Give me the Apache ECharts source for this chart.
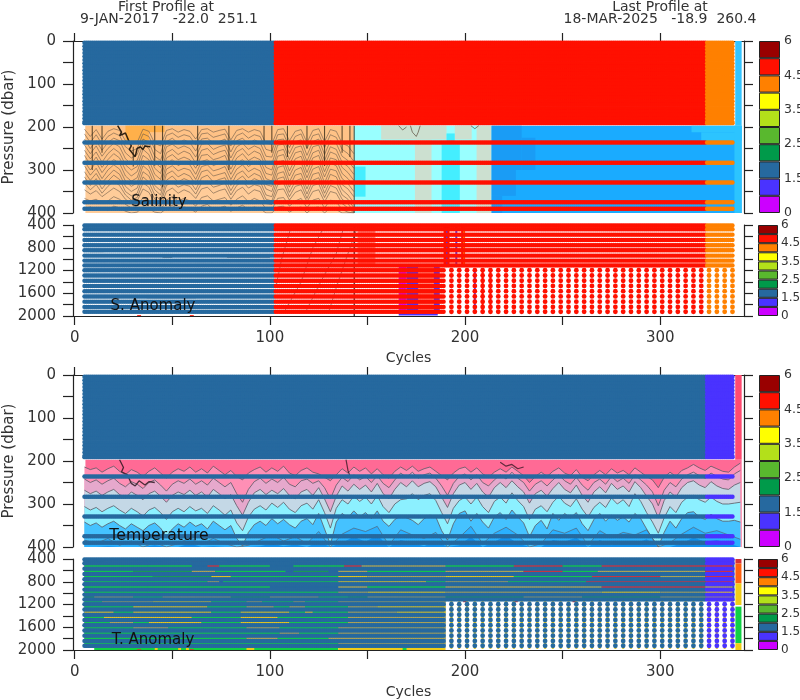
<!DOCTYPE html>
<html>
<head>
<meta charset="utf-8">
<style>html,body{margin:0;padding:0;background:#fff}#c{width:800px;height:700px}</style>
<script src="https://cdn.jsdelivr.net/npm/echarts@6/dist/echarts.min.js"></script>
</head>
<body>
<div id="c"></div>
<script>
// ---- profile positions
const denseCycles=[5,6,7,8,9,10,11,12,13,14,15,16,17,18,19,20,21,22,23,24,25,26,27,28,29,30,31,32,33,34,35,36,37,38,39,40,41,42,43,44,45,46,47,48,49,50,51,52,53,54,55,56,57,58,59,60,61,62,63,64,65,66,67,68,69,70,71,72,73,74,75,76,77,78,79,80,81,82,83,84,85,86,87,88,89,90,91,92,93,94,95,96,97,98,99,100,101,102,103,104,105,106,107,108,109,110,111,112,113,114,115,116,117,118,119,120,121,122,123,124,125,126,127,128,129,130,131,132,133,134,135,136,137,138,139,140,141,142,143,144,145,146,147,148,149,150,151,152,153,154,155,156,157,158,159,160,161,162,163,164,165,166,167,168,169,170,171,172,173,174,175,176,177,178,179,180,181,182,183,184,185,186,187,188,189,190,191,192,193,194,195,196,197,198,199,200,201,202,203,204,205,206,207,208,209,210,211,212,213,214,215,216,217,218,219,220,221,222,223,224,225,226,227,228,229,230,231,232,233,234,235,236,237,238,239,240,241,242,243,244,245,246,247,248,249,250,251,252,253,254,255,256,257,258,259,260,261,262,263,264,265,266,267,268,269,270,271,272,273,274,275,276,277,278,279,280,281,282,283,284,285,286,287,288,289,290,291,292,293,294,295,296,297,298,299,300,301,302,303,304,305,306,307,308,309,310,311,312,313,314,315,316,317,318,319,320,321,322,323,324,325,326,327,328,329,330,331,332,333,334,335,336,337];
const sparseCycles=[193,197,201,205,209,213,217,221,225,229,233,237,241,245,249,253,257,261,265,269,273,277,281,285,289,293,297,301,305,309,313,317,321,325,329,333,337];
const pressuresTop=[4,12,20,28,36,44,52,60,68,76,84,92,100,108,116,124,132,140,148,156,164,172,180,188,191];
const pressuresBands=[236,283,329,375,390];
const pressuresMid=[410,476,570,664,755,845,938,1026,1110];
const pressuresDeep=[1196,1288,1380,1472,1564,1656,1748,1840,1925];
const gapLevels=[430,523,616,711,799,892,985,1068,1161,1249,1337,1424,1512,1600,1695,1788,1876];

// ---- colour classes per cycle: last cycle of each class
const blueLastCycle=102, redLastCycle=323;

// ---- axis ticks
const xTicks=[0,50,100,150,200,250,300];
const xLabels=[0,100,200,300];
const pTicksUpper=[0,50,100,150,200,250,300,350,400];
const pLabelsUpper=[0,100,200,300,400];
const pTicksLower=[400,600,800,1000,1200,1400,1600,1800,2000];
const pLabelsLower=[400,800,1200,1600,2000];
const barLabelValues=[0,2,4,6,8,10];
const barLabelTexts=['0','1.5','2.5','3.5','4.5','6'];
const barCells=[1,1,1,1,1,1,1,1,1,1];

// ---- salinity filled contours: [cycle0,cycle1,p0,p1,class]
const salinityCells=[
[5.5,143,197,400,0],[5.5,143,197,330,1],[26,38,197,237,2],[38,46,197,212,2],
[143,213.6,197,400,3],[157,190.5,197,229,4],[194.7,203.4,197,229,4],[205.9,213.6,197,400,4],
[174.3,182.8,229,400,4],[188,197.3,240,400,5],[190.5,194.7,215,240,5],[143.6,149,292,362,5],
[213.6,341.7,197,400,6],[213.6,229,197,300,7],[229,236,225,300,7],[213.6,226,300,360,7],[213.6,219,360,400,7],
[316,341.7,197,212,8],[321,341.7,212,232,8],[338,341.7,197,400,8],[338.4,341.7,0,197,9]];

// ---- salinity contour lines
const salCycles=[5,8,11,14,17,20,23,26,29,32,35,38,41,44,47,50,53,56,59,62,65,68,71,74,77,80,83,86,89,92,95,98,101,104,107,110,113,116,119,122,125,128,131,134,137,140,143];
const salLine1=[205,222,206,228,210,204,208,232,240,236,205,210,238,244,208,204,212,206,210,228,206,204,212,208,205,230,208,204,212,206,210,238,240,206,204,232,210,206,236,208,204,234,206,210,238,244,262];
const salLine2=[216,236,218,240,222,214,220,246,256,250,216,222,252,262,220,214,224,218,222,242,216,214,224,220,216,244,220,214,226,218,222,252,256,218,216,248,222,216,250,220,216,248,218,224,252,262,280];
const salLine3=[228,250,232,254,236,226,232,260,272,264,228,236,268,278,234,226,238,230,236,256,228,226,238,234,228,258,232,226,240,230,236,268,270,230,228,262,234,230,266,234,228,264,232,238,268,278,296];
const salLine4=[242,262,244,268,250,238,246,274,286,278,240,250,282,294,246,240,250,244,250,270,240,238,252,246,242,272,246,238,252,244,250,282,286,242,240,276,248,244,280,246,242,278,246,252,282,292,310];
const salLine5=[254,274,258,282,262,250,260,288,300,292,252,264,296,308,260,252,264,256,262,284,254,250,264,258,254,284,258,250,266,256,262,294,300,256,252,288,260,256,292,260,254,290,258,264,294,306,324];
const salLine6=[266,288,270,294,276,262,272,300,314,304,266,276,310,322,272,264,276,270,276,296,266,264,276,272,266,298,272,262,278,270,276,308,312,268,264,302,274,268,306,272,266,304,272,276,308,320,336];
const salLine7=[280,300,282,306,288,276,284,314,326,318,278,290,322,336,286,276,290,282,288,310,280,276,290,284,280,310,284,276,292,282,288,320,326,282,278,314,286,282,318,286,280,316,284,290,320,332,350];
const salLine8=[290,312,296,320,300,288,298,326,338,330,290,302,336,348,298,290,302,296,300,322,292,288,302,298,292,322,298,288,304,296,302,334,338,294,290,328,300,294,330,298,292,330,298,302,334,344,362];
const salLine9=[304,324,308,330,314,300,310,338,350,342,304,314,346,358,310,302,316,308,314,334,304,300,314,310,306,336,310,302,318,308,314,344,350,308,304,340,312,308,344,310,306,342,310,316,346,358,376];
const salLine10=[316,336,320,344,326,312,322,350,360,354,316,328,358,370,324,314,328,320,326,346,318,312,328,322,318,348,324,314,330,320,326,358,362,320,316,352,326,320,356,324,318,354,324,328,358,368,388];
const salLine11=[330,346,334,354,338,326,336,358,370,364,330,340,368,378,336,328,340,334,338,356,330,326,340,336,330,358,336,326,342,334,338,368,372,334,330,362,338,334,366,336,332,364,336,342,368,378,398];
const salLine12=[346,356,348,362,352,342,350,368,378,372,344,352,376,386,350,342,354,346,352,366,344,340,354,348,344,368,348,340,356,346,350,378,380,346,344,370,352,346,374,350,346,374,350,354,378,388,400];
const salLine13=[366,372,368,378,372,362,368,380,388,384,364,372,386,394,370,362,372,366,372,384,364,360,372,368,364,382,368,360,374,366,372,390,392,366,364,384,372,366,388,370,366,388,370,374,392,398,400];
const salLine14=[390,386,392,388,394,384,388,396,400,398,386,390,398,400,390,382,392,386,390,398,384,380,392,388,384,396,388,382,392,386,390,400,400,386,384,398,390,386,400,388,386,400,388,392,400,400,400];
const salDarkTrace=[[22,197],[24,212],[23,220],[26,214],[27.5,230],[29,244],[28,252],[31,269],[32,250],[33.5,246],[35,252],[36,244],[38.6,246]];
const salBundles=[[9,197,300],[14,197,260],[30,246,292],[41,197,290],[45,197,340],[63,197,290],[79,197,300],[97,197,240],[101,197,260],[109,197,270],[119,197,250],[128,197,290],[137,197,260],[141,197,270],[143.2,197,400]];
const salLoops=[[[166,197],[168,207],[170,200]],[[172,197],[173,212],[175,222],[176,212],[177,197]],[[203,197],[205,204],[207,197]]];

// ---- temperature contour lines
const tempCycles=[5,8,11,14,17,20,23,26,29,32,35,38,41,44,47,50,53,56,59,62,65,68,71,74,77,80,83,86,89,92,95,98,101,104,107,110,113,116,119,122,125,128,131,134,137,140,143,146,149,152,155,158,161,164,167,170,173,176,179,182,185,188,191,194,197,200,203,206,209,212,215,218,221,224,227,230,233,236,239,242,245,248,251,254,257,260,263,266,269,272,275,278,281,284,287,290,293,296,299,302,305,308,311,314,317,320,323,326,329,332,335,338,341];
const tempCyclesCoarse=[5,11,17,23,29,35,41,47,53,59,65,71,77,83,89,95,101,107,113,119,125,131,137,143,149,155,161,167,173,179,185,191,197,203,209,215,221,227,233,239,245,251,257,263,269,275,281,287,293,299,305,311,317,323,329,335,341];
const tempLine1=[214,220,216,226,218,212,224,232,220,226,236,224,216,228,240,226,218,224,214,226,218,228,212,222,232,222,236,244,228,220,214,226,216,224,212,228,234,222,216,226,230,238,246,232,218,228,214,224,216,230,218,232,240,224,214,222,212,224,218,214,224,234,244,228,218,214,226,216,230,238,226,218,226,214,224,234,250,236,226,236,224,216,228,234,220,238,246,232,222,232,218,228,222,232,216,226,236,244,262,238,226,236,222,216,208,216,222,212,218,224,226,214,205];
const tempLine2=[242,250,244,254,246,240,252,260,248,254,264,250,244,256,270,254,246,252,242,254,246,256,240,250,260,250,276,296,266,248,240,252,242,250,238,254,260,246,242,252,246,262,288,256,238,248,232,244,236,250,234,252,262,244,228,238,226,240,232,228,240,258,280,252,236,230,244,232,250,258,244,232,242,226,240,250,270,254,246,258,244,232,246,254,238,256,268,250,242,254,236,248,240,252,232,244,256,272,304,268,250,260,242,232,226,234,240,228,236,242,244,230,222];
const tempLine3=[268,276,270,280,272,266,278,286,272,280,290,276,270,282,296,280,272,278,268,280,272,284,266,276,288,278,304,326,296,274,266,278,268,276,264,280,288,272,266,280,262,288,318,282,258,270,254,266,256,272,252,276,288,266,250,260,246,260,252,248,260,284,308,276,256,250,266,252,272,284,262,250,262,246,260,272,298,276,268,282,264,250,266,274,256,280,296,272,260,274,252,266,258,272,248,262,282,300,332,292,272,284,262,250,246,256,262,248,258,264,266,256,250];
const tempLine4=[306,314,308,318,310,304,314,322,310,318,328,314,308,320,336,318,310,318,306,316,310,322,304,314,326,314,344,362,330,312,304,314,298,308,296,312,320,304,298,312,290,320,356,310,290,300,282,294,284,300,280,306,320,300,290,288,276,290,280,276,292,320,346,310,292,284,300,284,306,320,294,284,298,274,292,306,336,312,304,318,296,282,298,306,288,312,330,308,296,308,286,300,290,306,276,294,320,342,368,332,306,320,296,284,280,290,296,284,294,300,300,298,296];
const tempLine5=[342,350,344,354,346,340,350,358,346,354,362,350,344,356,376,358,346,354,342,352,346,358,340,350,360,350,380,398,366,348,340,350,334,346,336,348,356,340,334,348,322,358,394,342,322,332,316,330,320,334,316,340,352,336,328,332,338,348,334,326,330,362,384,346,322,316,340,322,342,356,330,320,336,314,330,344,376,350,338,358,322,338,322,332,320,346,362,336,322,340,326,338,330,342,322,334,358,380,400,366,340,356,334,320,318,330,336,324,334,340,340,338,342];
const tempLine6=[384,392,380,396,386,400,390,400,392,378,394,380,392,400,396,384,372,386,376,392,364,400,370,356,364,352,396,360,372,380,366,400,378,352,392,368,354,372,400,392,360,368,356,396,362,378,366,372,360,400,390,370,354,368,362,372,382];
const tempLine7=[400,400,398,400,400,400,396,400,400,392,400,398,400,400,400,398,392,398,394,400,388,400,390,376,388,372,400,384,390,398,386,400,396,376,400,388,374,392,400,400,384,388,378,400,384,396,386,392,382,400,400,392,378,388,384,392,400];
const tempDarkTrace=[[23,197],[25,215],[24,225],[27,232],[29,252],[31,258],[33,246],[36,256],[38,248],[41,250]];
const tempDarkTrace2=[[139,197],[140,222],[141,235]];
const tempDarkTrace3=[[218,203],[221,212],[224,208],[227,218],[230,214]];
const tempBase=[[5.5,341.7,197,400,0],[338.4,341.7,0,197,1]];

// ---- salinity anomaly: under-dot marks [cycle0,cycle1,p0,p1,class]
const salAnomalyCells=[
[145,154,400,1135,4],[189,192,400,1135,0],[190.2,191,400,1135,1],[195,196,400,1135,1],[198,200,400,1135,0],[199,199.7,400,1135,3],
[166,170,1135,1950,2],[170,176,1135,1950,1],[176,184,1135,1950,4],[184,187,1135,1950,1],[166,186,1950,1992,1],
[204.5,205.5,1160,1950,1],[208.5,209.5,1160,1950,0],[212.5,213.5,1160,1950,0],[32,34,1985,2000,0],[59,61,1985,2000,0]];
const salAnomalyTraces=[
[[107,1950],[116,1400],[122,800],[128,420]],[[118,1950],[126,1400],[134,900],[138,420]],[[130,1950],[134,1500],[139,1000],[145,420]],
[[103,1500],[106,1000],[111,420]],[[7.8,869],[14.7,869]],[[27,425],[35,425]],[[40,425],[52,425]],[[78,425],[90,425]],[[71,840],[95,840]],[[45,970],[50,970]],[[78,970],[100,970]],[[80,1580],[84,1580]],[[94,1580],[98,1580]],[[37,1680],[62,1680]]];
const salAnomalyVertical=[[143.2,400],[143.2,2000]];

// ---- temperature anomaly: runs in the gaps between rows (c0,c1,class ...)
const tempGapRows=[
[5,15,0,15,35,1,35,45,0,45,60,1,60,72,3,72,78,1,110,125,1,125,135,0,135,150,1,150,166,3,166,190,1,190,200,0,200,225,1,225,250,0,250,270,1,270,323,0,323,337,3],
[5,60,0,68,74,3,74,100,0,112,138,0,138,147,3,147,190,1,190,225,0,225,250,3,250,270,0,270,323,3,323,337,3],
[5,30,0,30,60,4,60,72,1,72,108,0,112,130,4,135,150,1,150,190,0,190,230,1,230,250,3,250,268,0,268,323,1,323,337,3],
[5,40,0,40,70,4,70,80,2,80,135,0,135,150,2,150,190,1,190,225,2,225,265,0,265,300,3,300,323,1,323,337,3],
[5,68,0,68,74,1,76,135,0,135,180,2,180,190,0,190,222,1,222,262,0,262,323,3,323,337,3],
[5,100,0,135,150,1,150,190,0,190,270,1,270,323,3,323,337,1],
[5,135,0,135,150,1,150,190,2,190,270,1,270,300,2,300,323,1,323,337,2],
[5,10,4,10,30,1,30,45,0,45,80,1,80,100,4,100,125,1,125,140,0,140,150,4,150,190,1,190,230,4,230,260,1,260,300,4,300,337,1],
[5,14,0,14,40,1,40,70,2,70,88,0,88,96,1,96,112,0,112,118,1,118,135,0,135,190,1],
[5,30,0,30,68,2,68,88,0,88,102,1,102,110,0,110,118,1,118,140,0,140,155,1,155,190,2],
[5,20,2,20,30,0,30,70,2,70,85,0,85,110,2,110,118,0,118,122,2,122,140,0,140,165,1,165,190,2],
[5,15,0,15,60,2,60,85,0,85,104,2,104,140,0,140,190,1],
[5,18,0,18,30,1,30,38,0,38,65,2,65,85,0,85,110,2,110,140,0,140,190,1],
[5,30,0,30,48,1,48,88,0,88,105,1,105,135,0,135,190,1],
[5,105,0,105,115,1,115,135,0,135,190,1],
[5,88,0,88,104,1,104,130,0,130,190,1],
[5,135,0,135,190,1]];
const tempAnomalyBase=[[5,190,400,1140,6],[190,338,400,1140,6],[5,190,1140,1960,6]];
const tempAnomalyCells=[
[10,135,1960,2000,0],[41,42.5,1960,2000,2],[53,54.5,1960,2000,2],[57,58.5,1960,2000,2],[88,92,1960,2000,2],
[135,190,1960,2000,2],[168,170,1960,2000,0],[32,34,1985,2000,3],[59,61,1985,2000,3],
[199,201,1115,1160,3],[225,227,1115,1160,3],[255,257,1115,1160,3],
[338.5,341.6,400,480,3],[338.5,341.6,480,830,5],[338.5,341.6,830,1210,2],[338.5,341.6,1237,1880,0],[338.5,341.6,1880,2000,2]];

// ---- styles
const ink='#222', txt='#333', font='DejaVu Sans';
const barColors=['#cc00ff','#4a33ff','#26699f','#009a4a','#59b82e','#b3e01a','#ffff00','#ff8000','#ff1000','#990000'];
const blue='#26699f', red='#ff1000', orange='#ff8000', violet='#4a33ff';
const salPalette=['#ffcc99','#ffc286','#ffb04a','#99ffff','#cce0d0','#44eeff','#1aabff','#1a9cf5','#2cc4ff','#33c4ff'];
const tempBasePalette=['#ff6a95','#ff4a70'];
const tempFills=['#ff8fb5','#e6a8cc','#c4d8e6','#8cf0ff','#45c2ff','#2ab0ff','#0f90ee'];
const salAnomPalette=[red,violet,'#dd00ee','#ff9000','rgba(255,40,20,0.55)'];
const tempAnomPalette=['#10d044','#b8a850','#f0cc18','#d83038','#18a050','#ff6010','#26699f'];

const grids=[
 {left:73,width:671,top:41,height:172},
 {left:73,width:671,top:225,height:91},
 {left:73,width:671,top:375,height:172},
 {left:73,width:671,top:559,height:91},
 {left:759,width:21,top:41,height:172},
 {left:758,width:20,top:225,height:91},
 {left:759,width:21,top:375,height:172},
 {left:758,width:20,top:559,height:91}].map(g=>Object.assign(g,{outerBoundsMode:'none'}));

const xAxes=[], yAxes=[], series=[];
const lineS={color:ink,width:1.2};
[0,1,2,3].forEach(i=>{
  const upper=i%2===0;
  const base={gridIndex:i,type:'value',min:-0.87,max:342.9,splitLine:{show:false}};
  xAxes.push(Object.assign({},base,{position:'bottom',show:!upper,axisLine:{show:true,onZero:false,lineStyle:lineS},
    axisTick:{show:true,length:9,lineStyle:lineS,customValues:xTicks},
    axisLabel:{show:true,color:txt,fontFamily:font,fontSize:15,margin:15,customValues:xLabels,formatter:v=>String(v)},
    name:'Cycles',nameLocation:'middle',nameGap:35,nameTextStyle:{color:txt,fontFamily:font,fontSize:14}}));
  xAxes.push(Object.assign({},base,{position:'top',show:upper,axisLine:{show:true,onZero:false,lineStyle:lineS},
    axisTick:{show:true,length:8,lineStyle:lineS,customValues:xTicks},axisLabel:{show:false}}));
  const yBase={gridIndex:i,type:'value',inverse:true,min:upper?0:400,max:upper?400:2000,splitLine:{show:false}};
  yAxes.push(Object.assign({},yBase,{position:'left',axisLine:{show:true,onZero:false,lineStyle:lineS},
    axisTick:{show:true,length:10,lineStyle:lineS,customValues:upper?pTicksUpper:pTicksLower},
    axisLabel:{show:true,color:txt,fontFamily:font,fontSize:15,margin:17,customValues:upper?pLabelsUpper:pLabelsLower,formatter:v=>String(v)},
    name:upper?'Pressure (dbar)':'',nameLocation:'middle',nameGap:56,nameTextStyle:{color:txt,fontFamily:font,fontSize:15}}));
  yAxes.push(Object.assign({},yBase,{position:'right',axisLine:{show:true,onZero:false,lineStyle:lineS},
    axisTick:{show:true,length:9,lineStyle:lineS,customValues:upper?pTicksUpper:pTicksLower},axisLabel:{show:false}}));
});
[4,5,6,7].forEach(i=>{
  xAxes.push({gridIndex:i,type:'category',data:['c'],show:false});
  xAxes.push({gridIndex:i,type:'category',data:['c'],show:false});
  const y={gridIndex:i,type:'value',min:0,max:10,position:'right',splitLine:{show:false},axisLine:{show:false},axisTick:{show:false},
    axisLabel:{color:txt,fontFamily:font,fontSize:i%2?12:12.5,margin:i%2?3:4,customValues:barLabelValues,formatter:v=>barLabelTexts[barLabelValues.indexOf(v)]}};
  yAxes.push(y);
  yAxes.push({gridIndex:i,type:'value',min:0,max:10,show:false});
  barCells.forEach((v,k)=>series.push({type:'bar',xAxisIndex:2*i,yAxisIndex:2*i,stack:'bar'+i,barWidth:'100%',silent:true,data:[v],
    itemStyle:{color:barColors[k],borderColor:ink,borderWidth:1}}));
});

function cells(i,data,palette,z){
  series.push({type:'custom',xAxisIndex:2*i,yAxisIndex:2*i,z:z,silent:true,clip:true,data:data,
    encode:{x:[0,1],y:[2,3]},
    renderItem:(p,api)=>{
      const a=api.coord([api.value(0),api.value(2)]),b=api.coord([api.value(1),api.value(3)]);
      return {type:'rect',shape:{x:a[0],y:a[1],width:b[0]-a[0],height:b[1]-a[1]},style:{fill:palette[api.value(4)]}};
    }});
}
function trace(i,pts,color,width,opacity,z){
  series.push({type:'line',xAxisIndex:2*i,yAxisIndex:2*i,z:z,silent:true,symbol:'none',data:pts,clip:true,
    lineStyle:{color:color,width:width,opacity:opacity},animation:false});
}
function dots(i,cycles,levels,color,size,z){
  const d=[];levels.forEach(p=>cycles.forEach(c=>d.push([c,p])));
  series.push({type:'scatter',xAxisIndex:2*i,yAxisIndex:2*i,z:z||5,silent:true,symbol:'circle',symbolSize:size,progressive:0,hoverLayerThreshold:Infinity,data:d,itemStyle:{color:color,opacity:1}});
}
function colourDots(i,cycles,levels,colors,size){
  dots(i,cycles.filter(c=>c<=blueLastCycle),levels,colors[0],size);
  dots(i,cycles.filter(c=>c>blueLastCycle&&c<=redLastCycle),levels,colors[1],size);
  dots(i,cycles.filter(c=>c>redLastCycle),levels,colors[2],size);
}
const zip=(xs,ys)=>xs.map((x,k)=>[x,ys[k]]);

// panel 0 : salinity
cells(0,salinityCells,salPalette,1);
[salLine1,salLine2,salLine3,salLine4,salLine5,salLine6,salLine7,salLine8,salLine9,salLine10,salLine11,salLine12,salLine13,salLine14]
  .forEach(l=>trace(0,zip(salCycles,l),'#6a5a48',0.7,0.85,2));
trace(0,salDarkTrace,'#1a1208',1.5,0.9,3);
salBundles.forEach(b=>trace(0,[[b[0],b[1]],[b[0],b[2]]],'#2a2010',1.1,0.75,3));
salLoops.forEach(l=>trace(0,l,'#6a6050',0.9,0.9,3));
colourDots(0,denseCycles,pressuresTop.concat(pressuresBands),[blue,red,orange],4.4);

// panel 1 : salinity anomaly
cells(1,salAnomalyCells,salAnomPalette,1);
salAnomalyTraces.forEach(l=>trace(1,l,'#444',0.8,0.75,2));
trace(1,salAnomalyVertical,'#111',1.1,1,2);
colourDots(1,denseCycles,pressuresMid,[blue,red,orange],4.4);
colourDots(1,denseCycles.filter(c=>c<190),pressuresDeep,[blue,red,orange],4.4);
colourDots(1,sparseCycles,pressuresDeep,[blue,red,orange],4.8);

// panel 2 : temperature
cells(2,tempBase,tempBasePalette,1);
[tempLine1,tempLine2,tempLine3,tempLine4,tempLine5,tempLine6,tempLine7].forEach((l,k)=>{
  series.push({type:'line',xAxisIndex:4,yAxisIndex:4,z:2,silent:true,symbol:'none',clip:true,data:zip(k>4?tempCyclesCoarse:tempCycles,l),
    lineStyle:{color:'#5a5a66',width:k>4?0.7:0.9,opacity:k>5?0:0.9},areaStyle:{color:tempFills[k],opacity:1,origin:'end'}});
});
trace(2,tempDarkTrace,'#201018',1.3,0.8,3);
trace(2,tempDarkTrace2,'#201018',1.2,0.7,3);
trace(2,tempDarkTrace3,'#201018',1.2,0.7,3);
colourDots(2,denseCycles,pressuresTop.concat(pressuresBands),[blue,blue,violet],4.4);

// panel 3 : temperature anomaly
const gapCells=[];
tempGapRows.forEach((row,r)=>{for(let k=0;k<row.length;k+=3)gapCells.push([row[k],row[k+1],gapLevels[r]-26,gapLevels[r]+26,row[k+2]]);});
cells(3,tempAnomalyBase,tempAnomPalette,1);
cells(3,gapCells.concat(tempAnomalyCells),tempAnomPalette,1);
dots(3,sparseCycles,gapLevels.slice(8).concat([1959]),'#e8c820',2.6,2);
colourDots(3,denseCycles,pressuresMid,[blue,blue,violet],4.4);
colourDots(3,denseCycles.filter(c=>c<190),pressuresDeep,[blue,blue,violet],4.4);
colourDots(3,sparseCycles,pressuresDeep,[blue,blue,violet],4.8);

const label=(text,x,y,size,color)=>({type:'text',z:50,zlevel:5,x:x,y:y,silent:true,
  style:{text:text,font:size+'px "'+font+'"',fill:color||txt,textAlign:'center',textVerticalAlign:'middle'}});

const chart=echarts.init(document.getElementById('c'),null,{renderer:'canvas'});
chart.setOption({
  animation:false,backgroundColor:'#fff',grid:grids,xAxis:xAxes,yAxis:yAxes,series:series,
  graphic:{elements:[
    label('First Profile at',166,7,14),
    label('9-JAN-2017   -22.0  251.1',169,19,14),
    label('Last Profile at',660,7,14),
    label('18-MAR-2025   -18.9  260.4',660,19,14),
    label('Salinity',159,202,15,'#111'),
    label('S. Anomaly',153,306,15,'#111'),
    label('Temperature',159,536,15.7,'#111'),
    label('T. Anomaly',153,640,15,'#111')
  ]}
});
</script>
</body>
</html>
